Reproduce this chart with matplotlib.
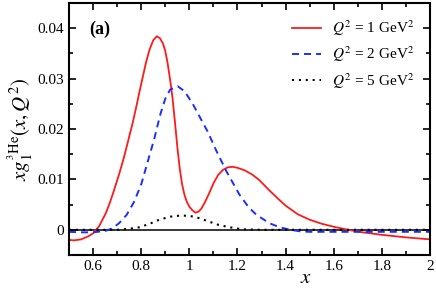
import matplotlib
matplotlib.use("Agg")
import matplotlib.pyplot as plt
from matplotlib.ticker import MultipleLocator

plt.rcParams['font.family'] = ['Liberation Serif', 'DejaVu Serif']
plt.rcParams['mathtext.fontset'] = 'stix'

# Q^2 = 1 GeV^2 (red solid)
x_q1 = [0.50, 0.52, 0.55, 0.58, 0.60, 0.625, 0.653, 0.67, 0.6875, 0.71, 0.729, 0.745, 0.764, 0.78,
        0.792, 0.805, 0.82, 0.835, 0.85, 0.865, 0.878, 0.89, 0.90, 0.91, 0.92, 0.93, 0.94, 0.95,
        0.96, 0.97, 0.98, 0.99, 1.00, 1.012, 1.025, 1.038, 1.05, 1.065, 1.083, 1.10, 1.12, 1.14,
        1.16, 1.18, 1.20, 1.23, 1.26, 1.29, 1.333, 1.37, 1.40, 1.45, 1.50, 1.55, 1.60, 1.66,
        1.72, 1.80, 1.90, 2.00]
y_q1 = [-0.0020, -0.0021, -0.0019, -0.0013, -0.0007, 0.0007, 0.0033, 0.0054, 0.0079, 0.0113, 0.0145, 0.0175, 0.0211, 0.0245,
        0.0272, 0.0300, 0.0332, 0.0358, 0.0376, 0.0384, 0.0380, 0.0370, 0.0355, 0.0330, 0.0298, 0.0262, 0.0215, 0.0165,
        0.0122, 0.0090, 0.0069, 0.0055, 0.0046, 0.0039, 0.0034, 0.0036, 0.0042, 0.0055, 0.0073, 0.0092, 0.0109, 0.0119,
        0.0124, 0.0125, 0.0123, 0.0118, 0.0110, 0.0099, 0.0078, 0.0061, 0.0048, 0.0031, 0.0020, 0.0012, 0.0006, 0.0000,
        -0.0005, -0.0010, -0.0015, -0.0019]

# Q^2 = 2 GeV^2 (blue dashed)
x_q2 = [0.50, 0.55, 0.60, 0.653, 0.68, 0.708, 0.74, 0.77, 0.80, 0.83, 0.854, 0.88, 0.90, 0.92,
        0.951, 0.98, 1.014, 1.05, 1.076, 1.111, 1.153, 1.208, 1.246, 1.278, 1.333,
        1.375, 1.42, 1.46, 1.50, 1.60, 1.70, 1.80, 1.90, 2.00]
y_q2 = [-0.0004, -0.0005, -0.0005, -0.0002, 0.0003, 0.0013, 0.0030, 0.0055, 0.0090, 0.0140, 0.0180, 0.0230, 0.0260, 0.0278,
        0.0285, 0.0275, 0.0250, 0.0218, 0.0195, 0.0158, 0.0117, 0.0070, 0.0045, 0.0030, 0.0013,
        0.0005, 0.0000, -0.0003, -0.0004, -0.0004, -0.0004, -0.0004, -0.0004, -0.0004]

# Q^2 = 5 GeV^2 (black dotted)
x_q5 = [0.50, 0.60, 0.70, 0.75, 0.792, 0.83, 0.875, 0.92, 0.958, 0.99, 1.02, 1.042, 1.083,
        1.12, 1.167, 1.22, 1.30, 1.40, 1.60, 1.80, 2.00]
y_q5 = [0.0000, 0.0000, 0.0000, 0.0002, 0.0005, 0.0011, 0.0020, 0.0026, 0.0028, 0.0028, 0.0026, 0.0023, 0.0016,
        0.0010, 0.0005, 0.0001, 0.0000, 0.0000, 0.0000, 0.0000, 0.0000]

labels = [r'$Q^2$ = 1 GeV$^2$', r'$Q^2$ = 2 GeV$^2$', r'$Q^2$ = 5 GeV$^2$']

fig = plt.figure(figsize=(4.36, 2.89), dpi=100)
ax = fig.add_axes([69/436, 1 - 255/289, (430 - 69)/436, (255 - 3)/289])

ax.axhline(0, color='black', lw=1.1, zorder=1)
ax.plot(x_q1, y_q1, color='#ff1a1a', lw=1.3, label=labels[0])
ax.plot(x_q2, y_q2, color='#1a2eff', lw=1.4, ls=(0, (3.6, 2.6)), label=labels[1])
ax.plot(x_q5, y_q5, color='black', lw=1.5, ls=(0, (1, 2.3)), label=labels[2])

ax.set_xlim(0.5, 2.0)
ax.set_ylim(-0.005, 0.045)
ax.xaxis.set_minor_locator(MultipleLocator(0.1))
ax.yaxis.set_minor_locator(MultipleLocator(0.005))
ax.set_xticks([0.6, 0.8, 1.0, 1.2, 1.4, 1.6, 1.8, 2.0])
ax.set_xticklabels(['0.6', '0.8', '1', '1.2', '1.4', '1.6', '1.8', '2'])
ax.set_yticks([0, 0.01, 0.02, 0.03, 0.04])
ax.set_yticklabels(['0', '0.01', '0.02', '0.03', '0.04'])
ax.tick_params(which='both', direction='in', top=True, right=True, labelsize=11, width=1.2)
ax.tick_params(which='major', length=5)
ax.tick_params(which='minor', length=3)
for s in ax.spines.values():
    s.set_linewidth(1.5)

ax.set_xlabel(r'$x$', fontsize=15)
ax.xaxis.set_label_coords(0.655, -0.131)
ax.xaxis.label.set_va('bottom')
ax.set_ylabel(r'$x g_1^{^3\mathrm{He}}(x, Q^2)$', fontsize=15, labelpad=2)

ax.text(0.055, 0.93, '(a)', transform=ax.transAxes, fontsize=13, fontweight='bold', va='top')

leg = ax.legend(loc='upper right', frameon=False, fontsize=11, handlelength=1.9,
                handletextpad=0.75, labelspacing=0.45, borderaxespad=0.6)

fig.savefig('out.png', dpi=100)
